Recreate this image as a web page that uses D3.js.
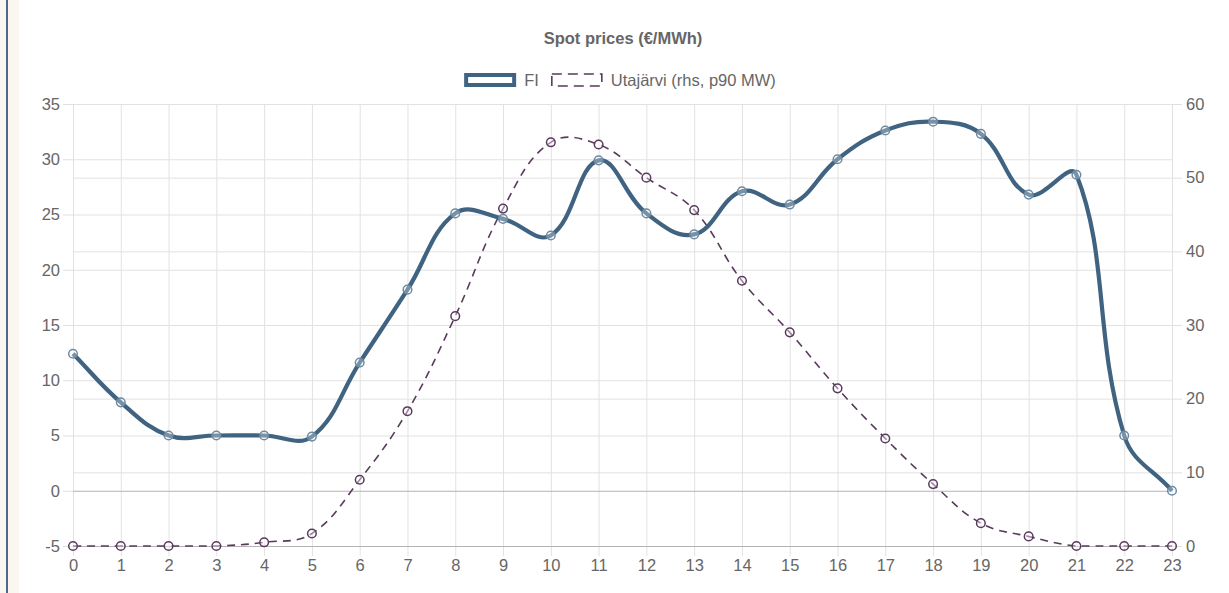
<!DOCTYPE html>
<html>
<head>
<meta charset="utf-8">
<script src="https://cdn.jsdelivr.net/npm/d3@7"></script>
<style>
    body { margin: 0; background: #fff; }
    svg { display: block; font-family: "Liberation Sans", Arial, Helvetica, sans-serif; }
    .axis text { fill: #666; font-size: 16.5px; }
    .axis path { display: none; }
    .axis line { stroke: #e0e0e0; }
    .grid path { display: none; }
    .grid line { stroke: #e2e2e2; stroke-width: 1; }
    .grid .zero line { stroke: #b3b3b3; }
</style>
</head>
<body>
<div id="container"></div>
<script>
//spot prices chart: FI price (lhs) and Utajärvi p90 production (rhs)

//chart data
var hours = ["0","1","2","3","4","5","6","7","8","9","10","11","12","13","14","15","16","17","18","19","20","21","22","23"];
var fiPrices = [12.4, 8.0, 5.0, 5.0, 5.0, 4.9, 11.6, 18.2, 25.1, 24.6, 23.1, 29.9, 25.1, 23.2, 27.1, 25.9, 30.0, 32.6, 33.4, 32.3, 26.8, 28.6, 5.0, 0.0];
var utajarviMW = [0, 0, 0, 0, 0.5, 1.7, 9.0, 18.3, 31.2, 45.8, 54.8, 54.5, 50.0, 45.6, 36.0, 29.0, 21.4, 14.6, 8.4, 3.1, 1.3, 0, 0, 0];
var leftTicks = [-5, 0, 5, 10, 15, 20, 25, 30, 35];
var rightTicks = [0, 10, 20, 30, 40, 50, 60];
var chartTitle = "Spot prices (€/MWh)";
var seriesNames = ["FI", "Utajärvi (rhs, p90 MW)"];

(function(){
    var width = 1229,
        height = 593,
        left = 73,
        right = 1172,
        top = 104,
        bottom = 546,
        innerWidth = right - left,
        innerHeight = bottom - top;

    var fiColor = "#3f6380",
        utaColor = "#5a3a5c";

    //plain hyphen for negative ticks
    var tickText = function(d){ return String(d); };

    var svg = d3.select("#container")
        .append("svg")
        .attr("width", width)
        .attr("height", height);

    //page strip on the left
    svg.append("rect")
        .attr("x", 0).attr("y", 0)
        .attr("width", 19).attr("height", height)
        .style("fill", "#faf7f0");
    svg.append("rect")
        .attr("x", 6).attr("y", 0)
        .attr("width", 2).attr("height", height)
        .style("fill", "#4d6985");

    //scales
    var xScale = d3.scalePoint()
        .domain(hours)
        .range([0, innerWidth]);

    var yLeft = d3.scaleLinear()
        .domain([-5, 35])
        .range([innerHeight, 0]);

    var yRight = d3.scaleLinear()
        .domain([0, 60])
        .range([innerHeight, 0]);

    var chart = svg.append("g")
        .attr("transform", "translate(" + left + "," + top + ")");

    //grid lines, x lines run down into the tick marks
    chart.append("g")
        .attr("class", "grid")
        .attr("transform", "translate(0," + innerHeight + ")")
        .call(d3.axisBottom(xScale).tickSize(-innerHeight - 10).tickFormat(""))
        .selectAll(".tick line")
        .attr("y1", 10)
        .attr("y2", -innerHeight);

    chart.append("g")
        .attr("class", "grid")
        .call(d3.axisLeft(yLeft).tickValues(leftTicks).tickSize(-innerWidth).tickFormat(""))
        .selectAll(".tick")
        .classed("zero", function(d){ return d === 0; });

    chart.append("g")
        .attr("class", "grid")
        .call(d3.axisLeft(yRight).tickValues(rightTicks).tickSize(-innerWidth).tickFormat(""))
        .selectAll(".tick")
        .classed("zero", function(d){ return d === 0; });

    //axes
    chart.append("g")
        .attr("class", "axis")
        .call(d3.axisLeft(yLeft).tickValues(leftTicks).tickFormat(tickText).tickSize(10).tickPadding(3));

    chart.append("g")
        .attr("class", "axis")
        .attr("transform", "translate(" + innerWidth + ",0)")
        .call(d3.axisRight(yRight).tickValues(rightTicks).tickFormat(tickText).tickSize(10).tickPadding(4));

    chart.append("g")
        .attr("class", "axis")
        .attr("transform", "translate(0," + innerHeight + ")")
        .call(d3.axisBottom(xScale).tickSize(0).tickPadding(13));

    //chart.js style spline (tension 0.4, control points capped to chart area)
    function ChartSpline(context){ this._context = context; }
    ChartSpline.prototype = {
        areaStart: function(){},
        areaEnd: function(){},
        lineStart: function(){ this._pts = []; },
        point: function(x, y){ this._pts.push([+x, +y]); },
        lineEnd: function(){
            var p = this._pts, n = p.length, t = 0.4, ctx = this._context;
            var cps = [];
            var cap = function(v, max){ return Math.max(0, Math.min(max, v)); };
            for (var i = 0; i < n; i++){
                var prev = p[i > 0 ? i - 1 : i],
                    cur = p[i],
                    next = p[i < n - 1 ? i + 1 : i];
                var d01 = Math.hypot(cur[0] - prev[0], cur[1] - prev[1]),
                    d12 = Math.hypot(next[0] - cur[0], next[1] - cur[1]);
                var s01 = d01 / (d01 + d12) || 0,
                    s12 = d12 / (d01 + d12) || 0;
                var fa = t * s01, fb = t * s12;
                cps.push({
                    px: cap(cur[0] - fa * (next[0] - prev[0]), innerWidth),
                    py: cap(cur[1] - fa * (next[1] - prev[1]), innerHeight),
                    nx: cap(cur[0] + fb * (next[0] - prev[0]), innerWidth),
                    ny: cap(cur[1] + fb * (next[1] - prev[1]), innerHeight)
                });
            }
            ctx.moveTo(p[0][0], p[0][1]);
            for (var j = 1; j < n; j++){
                ctx.bezierCurveTo(cps[j-1].nx, cps[j-1].ny, cps[j].px, cps[j].py, p[j][0], p[j][1]);
            }
        }
    };
    var chartSpline = function(context){ return new ChartSpline(context); };

    //Utajärvi series (drawn first, under FI)
    var utaLine = d3.line()
        .x(function(d, i){ return xScale(hours[i]); })
        .y(function(d){ return yRight(d); })
        .curve(chartSpline);

    chart.append("path")
        .datum(utajarviMW)
        .attr("d", utaLine)
        .style("fill", "none")
        .style("stroke", utaColor)
        .style("stroke-width", 1.6)
        .style("stroke-dasharray", "8,6");

    chart.selectAll(".utaPoint")
        .data(utajarviMW)
        .enter()
        .append("circle")
        .attr("class", "utaPoint")
        .attr("cx", function(d, i){ return xScale(hours[i]); })
        .attr("cy", function(d){ return yRight(d); })
        .attr("r", 4.3)
        .style("fill", "rgba(255,255,255,0.4)")
        .style("stroke", utaColor)
        .style("stroke-width", 1.5);

    //FI series
    var fiLine = d3.line()
        .x(function(d, i){ return xScale(hours[i]); })
        .y(function(d){ return yLeft(d); })
        .curve(chartSpline);

    chart.append("path")
        .datum(fiPrices)
        .attr("d", fiLine)
        .style("fill", "none")
        .style("stroke", fiColor)
        .style("stroke-width", 4.2);

    chart.selectAll(".fiPoint")
        .data(fiPrices)
        .enter()
        .append("circle")
        .attr("class", "fiPoint")
        .attr("cx", function(d, i){ return xScale(hours[i]); })
        .attr("cy", function(d){ return yLeft(d); })
        .attr("r", 4.3)
        .style("fill", "rgba(255,255,255,0.3)")
        .style("stroke", "#6d8ba3")
        .style("stroke-width", 1.5);

    //title
    svg.append("text")
        .attr("x", 623)
        .attr("y", 44)
        .attr("text-anchor", "middle")
        .style("font-size", "16.5px")
        .style("font-weight", "bold")
        .style("fill", "#666")
        .text(chartTitle);

    //legend
    var legend = svg.append("g");
    var boxW = 52, boxH = 14, gap = 8, itemGap = 12;
    var labels = legend.selectAll(".legendLabel")
        .data(seriesNames)
        .enter()
        .append("text")
        .attr("class", "legendLabel")
        .attr("y", 86)
        .style("font-size", "16.5px")
        .style("fill", "#666")
        .text(function(d){ return d; });
    var widths = [];
    labels.each(function(){ widths.push(this.getComputedTextLength()); });
    var total = boxW + gap + widths[0] + itemGap + boxW + gap + widths[1];
    var x0 = 620 - total / 2,
        x1 = x0 + boxW + gap + widths[0] + itemGap;
    labels.attr("x", function(d, i){ return (i === 0 ? x0 : x1) + boxW + gap; });

    legend.append("rect")
        .attr("x", x0 + 2).attr("y", 75)
        .attr("width", boxW - 4).attr("height", boxH - 4)
        .style("fill", "#fff")
        .style("stroke", fiColor)
        .style("stroke-width", 4);

    legend.append("rect")
        .attr("x", x1 + 1).attr("y", 74)
        .attr("width", boxW - 2).attr("height", boxH - 2)
        .style("fill", "#fff")
        .style("stroke", utaColor)
        .style("stroke-width", 1.6)
        .style("stroke-dasharray", "10,6");
})();
</script>
</body>
</html>
